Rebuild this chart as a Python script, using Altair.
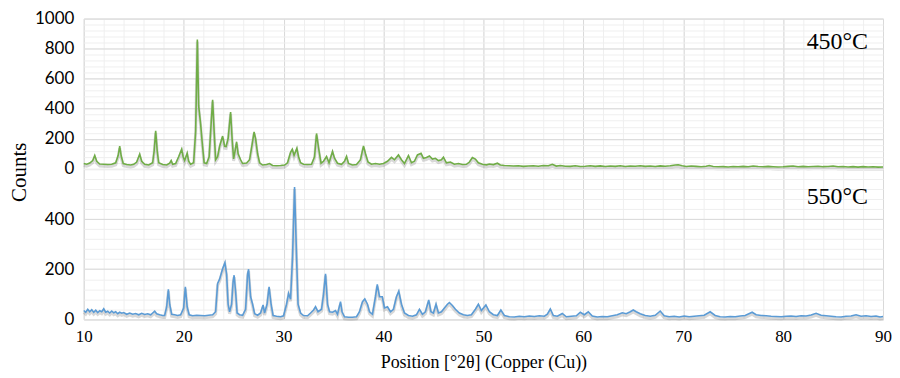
import altair as alt
import pandas as pd

# ---------------- data ----------------
x_major = [10, 20, 30, 40, 50, 60, 70, 80, 90]
x_minor = list(range(10, 91, 2))
top_major = [0, 200, 400, 600, 800, 1000]
top_minor = list(range(0, 1001, 40))
bot_major = [0, 200, 400]
bot_minor = list(range(0, 601, 40))

t450_x = [10.0, 10.3, 10.6, 10.9, 11.1, 11.3, 11.6, 12.0, 12.4, 12.8, 13.2, 13.45, 13.6, 13.75, 13.95,
          14.3, 14.7, 15.0, 15.3, 15.6, 15.8, 16.1, 16.5, 16.9, 17.05, 17.2, 17.35, 17.5, 17.9, 18.3,
          18.6, 18.75, 18.9, 19.2, 19.5, 19.8, 19.95, 20.1, 20.35, 20.5, 20.7, 21.0, 21.2, 21.37, 21.5,
          21.7, 21.85, 22.05, 22.3, 22.55, 22.75, 22.9, 23.05, 23.2, 23.4, 23.6, 23.9, 24.1, 24.25,
          24.45, 24.7, 24.85, 25.0, 25.15, 25.3, 25.45, 25.7, 25.9, 26.3, 26.6, 26.85, 27.05, 27.2,
          27.4, 27.6, 27.9, 28.3, 28.6, 28.9, 29.3, 29.7, 30.1, 30.4, 30.7, 30.87, 31.05, 31.33, 31.5,
          31.7, 32.0, 32.4, 32.8, 33.1, 33.3, 33.5, 33.75, 34.0, 34.3, 34.55, 34.9, 35.1, 35.4, 35.8,
          36.1, 36.3, 36.5, 36.9, 37.3, 37.7, 38.0, 38.2, 38.45, 38.8, 39.2, 39.6, 40.0, 40.4, 40.8,
          41.1, 41.5, 41.8, 42.1, 42.5, 42.8, 43.1, 43.4, 43.76, 44.0, 44.3, 44.6, 44.9, 45.2, 45.5,
          45.8, 46.0, 46.3, 46.7, 47.1, 47.5, 47.9, 48.3, 48.6, 48.9, 49.2, 49.5, 49.9, 50.3, 50.6,
          51.0, 51.4, 51.7, 52.1, 52.6, 53.0, 53.5, 54.0, 54.5, 55.0, 55.5, 56.0, 56.5, 56.9, 57.3,
          57.7, 58.2, 58.7, 59.2, 59.7, 60.2, 60.7, 61.2, 61.7, 62.2, 62.7, 63.2, 63.7, 64.2, 64.7,
          65.2, 65.7, 66.2, 66.7, 67.2, 67.7, 68.2, 68.7, 69.2, 69.5, 69.9, 70.3, 70.8, 71.3, 71.8,
          72.3, 72.6, 73.0, 73.5, 74.0, 74.5, 75.0, 75.5, 76.0, 76.5, 77.0, 77.5, 78.0, 78.5, 79.0,
          79.5, 80.0, 80.5, 81.0, 81.5, 82.0, 82.5, 83.0, 83.5, 84.0, 84.5, 85.0, 85.5, 86.0, 86.5,
          87.0, 87.5, 88.0, 88.5, 89.0, 89.5, 90.0]
t450_y = [35, 30, 38, 55, 88, 50, 32, 30, 28, 30, 40, 90, 150, 85, 35,
          28, 25, 30, 45, 97, 50, 30, 25, 40, 120, 253, 120, 40, 28, 25,
          38, 55, 30, 35, 80, 130, 80, 55, 103, 50, 30, 40, 250, 860, 420,
          297, 180, 40, 35, 80, 300, 460, 250, 60, 80, 150, 218, 150, 148,
          200, 378, 200, 66, 120, 180, 100, 60, 35, 38, 60, 160, 246, 200,
          100, 40, 25, 28, 35, 22, 20, 22, 25, 40, 110, 130, 90, 136, 80,
          40, 30, 28, 30, 80, 235, 140, 37, 50, 82, 40, 115, 70, 37, 30,
          50, 82, 35, 25, 28, 60, 152, 100, 45, 30, 35, 30, 35, 50, 76,
          60, 92, 60, 35, 88, 40, 50, 92, 103, 70, 75, 85, 65, 70, 55,
          60, 77, 40, 45, 30, 35, 28, 30, 45, 75, 65, 40, 30, 26, 32,
          28, 37, 25, 22, 20, 18, 20, 16, 18, 20, 17, 22, 20, 30, 18,
          22, 17, 16, 20, 15, 17, 20, 16, 19, 15, 18, 16, 20, 15, 18,
          17, 20, 16, 18, 15, 19, 17, 20, 25, 27, 20, 15, 18, 16, 14,
          17, 22, 15, 13, 14, 12, 15, 13, 16, 14, 18, 15, 13, 16, 14,
          12, 13, 16, 18, 14, 16, 13, 15, 17, 14, 15, 18, 13, 15, 12,
          14, 11, 14, 12, 13, 11, 12]

t550_x = [10.0, 10.2, 10.4, 10.6, 10.8, 11.0, 11.2, 11.4, 11.6, 11.8, 12.0, 12.2, 12.4, 12.6, 12.8,
          13.0, 13.2, 13.4, 13.6, 13.8, 14.0, 14.3, 14.6, 14.9, 15.2, 15.5, 15.8, 16.1, 16.4, 16.7,
          16.9, 17.1, 17.3, 17.6, 17.9, 18.1, 18.3, 18.47, 18.6, 18.8, 19.1, 19.4, 19.7, 20.0, 20.17,
          20.35, 20.55, 20.9, 21.3, 21.7, 22.1, 22.5, 22.9, 23.2, 23.4, 23.6, 23.9, 24.13, 24.3, 24.45,
          24.6, 24.8, 24.95, 25.05, 25.2, 25.35, 25.6, 25.9, 26.2, 26.4, 26.5, 26.7, 26.9, 27.1, 27.4,
          27.7, 27.95, 28.1, 28.35, 28.55, 28.75, 28.95, 29.3, 29.7, 30.0, 30.3, 30.5, 30.7, 30.9, 31.1,
          31.3, 31.45, 31.7, 32.0, 32.4, 32.7, 33.0, 33.2, 33.45, 33.8, 34.0, 34.2, 34.4, 34.6, 34.9,
          35.2, 35.4, 35.7, 35.85, 36.1, 36.5, 36.9, 37.3, 37.6, 37.9, 38.13, 38.4, 38.6, 38.9, 39.2,
          39.38, 39.6, 39.88, 40.1, 40.4, 40.7, 41.0, 41.3, 41.53, 41.8, 42.1, 42.5, 42.9, 43.3, 43.6,
          43.9, 44.2, 44.53, 44.75, 45.0, 45.26, 45.5, 45.8, 46.1, 46.4, 46.6, 46.9, 47.2, 47.6, 48.0,
          48.4, 48.8, 49.2, 49.5, 49.8, 50.25, 50.6, 51.0, 51.4, 51.75, 52.1, 52.6, 53.1, 53.6, 54.1,
          54.6, 55.1, 55.6, 56.1, 56.4, 56.7, 57.0, 57.4, 57.9, 58.3, 58.8, 59.3, 59.7, 60.1, 60.5,
          60.9, 61.4, 61.9, 62.4, 62.9, 63.4, 63.9, 64.3, 64.7, 65.0, 65.3, 65.7, 66.2, 66.7, 67.2,
          67.7, 68.1, 68.6, 69.1, 69.6, 70.1, 70.6, 71.1, 71.6, 72.1, 72.7, 73.2, 73.7, 74.2, 74.7,
          75.2, 75.7, 76.2, 76.9, 77.3, 77.8, 78.3, 78.8, 79.3, 79.8, 80.3, 80.8, 81.3, 81.8, 82.3,
          82.8, 83.3, 83.8, 84.3, 84.8, 85.3, 85.8, 86.3, 86.8, 87.3, 87.8, 88.3, 88.8, 89.3, 89.7,
          90.0]
t550_y = [35, 28, 40, 30, 38, 28, 36, 27, 34, 30, 42, 28, 32, 25, 33,
          26, 30, 22, 28, 24, 27, 20, 25, 20, 23, 18, 24, 19, 22, 18,
          25, 32, 22, 18, 15, 15, 50, 120, 60, 20, 18, 15, 18, 45, 130,
          50, 18, 14, 16, 15, 14, 16, 18, 30, 143, 160, 202, 226, 180, 60,
          30, 60, 150, 176, 110, 25, 18, 16, 40, 180, 200, 90, 60, 22, 16,
          25, 57, 25, 60, 130, 60, 15, 12, 10, 14, 60, 103, 80, 250, 528,
          250, 60, 25, 15, 14, 25, 37, 50, 30, 40, 100, 182, 60, 30, 28,
          35, 20, 70, 30, 10, 8, 8, 10, 30, 70, 81, 60, 30, 20, 90,
          139, 90, 90, 45, 50, 30, 40, 90, 112, 60, 25, 15, 12, 18, 40,
          20, 30, 77, 30, 25, 60, 25, 30, 45, 60, 67, 55, 40, 25, 18,
          15, 18, 40, 60, 35, 57, 30, 18, 15, 37, 15, 10, 9, 12, 10,
          13, 11, 14, 12, 20, 41, 15, 12, 23, 10, 12, 14, 28, 18, 30,
          13, 9, 11, 10, 14, 18, 26, 22, 30, 37, 30, 22, 15, 12, 16,
          33, 14, 10, 12, 9, 13, 10, 12, 14, 16, 30, 15, 10, 9, 11,
          10, 13, 15, 28, 18, 15, 14, 12, 11, 10, 12, 13, 11, 14, 13,
          17, 24, 16, 14, 12, 10, 9, 12, 13, 18, 12, 14, 11, 13, 9,
          11]

panel_labels = ["450°C", "550°C"]
label_x = [88.5, 88.5]
label_y = [800, 460]

# ---------------- styling ----------------
W, H = 802, 150.7
MAJOR = "#d9d9d9"
MINOR = "#efefef"
SERIF = "Liberation Serif"
SANS = "Lato"

xscale = alt.Scale(domain=[10, 90], nice=False, zero=False)


def panel(xs, ys, color, ydom, ymajor, yminor, show_x, lab, laby, y_title):
    df = pd.DataFrame({"x": xs, "y": ys})
    yscale = alt.Scale(domain=ydom, nice=False, zero=False)
    minor = alt.Chart(df).mark_line(opacity=0).encode(
        x=alt.X("x:Q", scale=xscale, axis=alt.Axis(orient="bottom", values=x_minor, grid=True,
                                                   gridColor=MINOR, labels=False, ticks=False,
                                                   domain=False, title=None)),
        y=alt.Y("y:Q", scale=yscale, axis=alt.Axis(orient="left", values=yminor, grid=True,
                                                   gridColor=MINOR, labels=False, ticks=False,
                                                   domain=False, title=None)),
    )
    xaxis_kw = dict(orient="bottom", values=x_major, grid=True, gridColor=MAJOR, ticks=False,
                    domain=False, labels=show_x, labelFont=SERIF, labelFontSize=17,
                    labelColor="#000", labelPadding=9, format="d", labelFlush=False)
    if show_x:
        xaxis_kw.update(title="Position [°2θ] (Copper (Cu))", titleFont=SERIF, titleFontSize=18,
                        titleFontWeight="normal", titleColor="#000", titlePadding=9)
    else:
        xaxis_kw.update(title=None)
    yaxis_kw = dict(orient="left", values=ymajor, grid=True, gridColor=MAJOR, ticks=False,
                    domain=False, labelFont=SANS, labelFontSize=17, labelColor="#000",
                    labelPadding=10, format="d", labelFlush=False)
    if y_title:
        yaxis_kw.update(title="Counts", titleFont=SERIF, titleFontSize=21, titleFontWeight="normal",
                        titleColor="#000", titleX=-54, titleY=H + 3)
    else:
        yaxis_kw.update(title=None)
    major = alt.Chart(df).mark_line(opacity=0).encode(
        x=alt.X("x:Q", scale=xscale, axis=alt.Axis(**xaxis_kw)),
        y=alt.Y("y:Q", scale=yscale, axis=alt.Axis(**yaxis_kw)),
    )
    shadow = alt.Chart(df).mark_line(color="#7f7f7f", strokeWidth=3, opacity=0.3, yOffset=2).encode(
        x=alt.X("x:Q", scale=xscale, axis=None), y=alt.Y("y:Q", scale=yscale, axis=None))
    line = alt.Chart(df).mark_line(color=color, strokeWidth=1.6).encode(
        x=alt.X("x:Q", scale=xscale, axis=None), y=alt.Y("y:Q", scale=yscale, axis=None))
    ldf = pd.DataFrame({"x": [label_x[lab]], "y": [laby], "t": [panel_labels[lab]]})
    text = alt.Chart(ldf).mark_text(align="right", baseline="alphabetic", font=SERIF,
                                    fontSize=24, color="#000").encode(
        x=alt.X("x:Q", scale=xscale, axis=None), y=alt.Y("y:Q", scale=yscale, axis=None), text="t:N")
    return alt.layer(minor, major, shadow, line, text).resolve_axis(
        x="independent", y="independent").properties(width=W, height=H)


top = panel(t450_x, t450_y, "#70ad47", [0, 1000], top_major, top_minor, False, 0, label_y[0], True)
bot = panel(t550_x, t550_y, "#5b9bd5", [0, 600], bot_major, bot_minor, True, 1, label_y[1], False)

chart = alt.vconcat(top, bot, spacing=0, bounds="flush").properties(
    padding={"left": 0, "top": 0, "right": 0, "bottom": 0}
).configure_view(stroke=None).configure(background="white")

chart.save("out.html", embed_options={"renderer": "svg", "actions": False})
